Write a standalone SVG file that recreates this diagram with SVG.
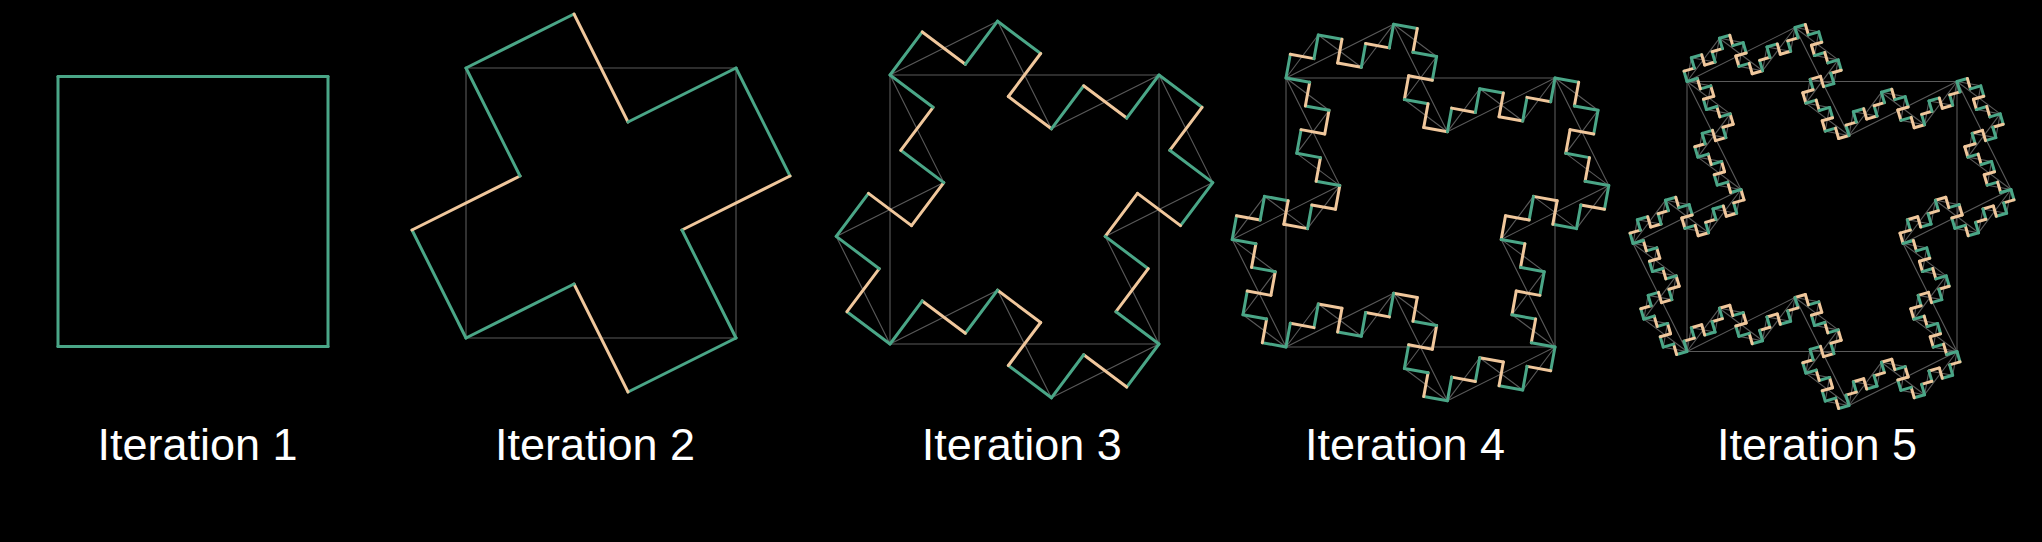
<svg xmlns="http://www.w3.org/2000/svg" xmlns:xlink="http://www.w3.org/1999/xlink" width="2042" height="542" viewBox="0 0 2042 542">
<style>
.g{stroke:#4aa687;stroke-width:3;fill:none;vector-effect:non-scaling-stroke;stroke-linecap:round}
.o{stroke:#f0c79c;stroke-width:3;fill:none;vector-effect:non-scaling-stroke;stroke-linecap:round}
.u{stroke:#5a5a5a;stroke-width:1.1;fill:none;vector-effect:non-scaling-stroke}
.lbl{font-family:"Liberation Sans",Arial,sans-serif;font-size:45px;fill:#ffffff;text-anchor:middle}
</style>
<defs>
<line id="G1" class="g" x1="0" y1="0" x2="1" y2="0"/>
<line id="O1" class="o" x1="0" y1="0" x2="1" y2="0"/>
<line id="U1" class="u" x1="0" y1="0" x2="1" y2="0"/>
<g id="G2"><use href="#G1" transform="matrix(0.4,-0.2,0.2,0.4,0,0)"/><use href="#O1" transform="matrix(0.2,0.4,-0.4,0.2,0.4,-0.2)"/><use href="#G1" transform="matrix(0.4,-0.2,0.2,0.4,0.6,0.2)"/></g>
<g id="O2"><use href="#G1" transform="matrix(0.4,-0.2,0.2,0.4,0,0)"/><use href="#O1" transform="matrix(0.2,0.4,-0.4,0.2,0.4,-0.2)"/><use href="#O1" transform="matrix(0.4,-0.2,0.2,0.4,0.6,0.2)"/></g>
<g id="G3"><use href="#G2" transform="matrix(0.4,-0.2,0.2,0.4,0,0)"/><use href="#O2" transform="matrix(0.2,0.4,-0.4,0.2,0.4,-0.2)"/><use href="#G2" transform="matrix(0.4,-0.2,0.2,0.4,0.6,0.2)"/></g>
<g id="O3"><use href="#G2" transform="matrix(0.4,-0.2,0.2,0.4,0,0)"/><use href="#O2" transform="matrix(0.2,0.4,-0.4,0.2,0.4,-0.2)"/><use href="#O2" transform="matrix(0.4,-0.2,0.2,0.4,0.6,0.2)"/></g>
<g id="G4"><use href="#G3" transform="matrix(0.4,-0.2,0.2,0.4,0,0)"/><use href="#O3" transform="matrix(0.2,0.4,-0.4,0.2,0.4,-0.2)"/><use href="#G3" transform="matrix(0.4,-0.2,0.2,0.4,0.6,0.2)"/></g>
<g id="O4"><use href="#G3" transform="matrix(0.4,-0.2,0.2,0.4,0,0)"/><use href="#O3" transform="matrix(0.2,0.4,-0.4,0.2,0.4,-0.2)"/><use href="#O3" transform="matrix(0.4,-0.2,0.2,0.4,0.6,0.2)"/></g>
<g id="G5"><use href="#G4" transform="matrix(0.4,-0.2,0.2,0.4,0,0)"/><use href="#O4" transform="matrix(0.2,0.4,-0.4,0.2,0.4,-0.2)"/><use href="#G4" transform="matrix(0.4,-0.2,0.2,0.4,0.6,0.2)"/></g>
<g id="U2"><use href="#U1" transform="matrix(0.4,-0.2,0.2,0.4,0,0)"/><use href="#U1" transform="matrix(0.2,0.4,-0.4,0.2,0.4,-0.2)"/><use href="#U1" transform="matrix(0.4,-0.2,0.2,0.4,0.6,0.2)"/></g>
<g id="U3"><use href="#U2" transform="matrix(0.4,-0.2,0.2,0.4,0,0)"/><use href="#U2" transform="matrix(0.2,0.4,-0.4,0.2,0.4,-0.2)"/><use href="#U2" transform="matrix(0.4,-0.2,0.2,0.4,0.6,0.2)"/></g>
<g id="U4"><use href="#U3" transform="matrix(0.4,-0.2,0.2,0.4,0,0)"/><use href="#U3" transform="matrix(0.2,0.4,-0.4,0.2,0.4,-0.2)"/><use href="#U3" transform="matrix(0.4,-0.2,0.2,0.4,0.6,0.2)"/></g>
<g id="RG1"><use href="#G1"/><use href="#G1" transform="matrix(0,1,-1,0,1,0)"/><use href="#G1" transform="matrix(-1,0,0,-1,1,1)"/><use href="#G1" transform="matrix(0,-1,1,0,0,1)"/></g>
<g id="RG2"><use href="#G2"/><use href="#G2" transform="matrix(0,1,-1,0,1,0)"/><use href="#G2" transform="matrix(-1,0,0,-1,1,1)"/><use href="#G2" transform="matrix(0,-1,1,0,0,1)"/></g>
<g id="RG3"><use href="#G3"/><use href="#G3" transform="matrix(0,1,-1,0,1,0)"/><use href="#G3" transform="matrix(-1,0,0,-1,1,1)"/><use href="#G3" transform="matrix(0,-1,1,0,0,1)"/></g>
<g id="RG4"><use href="#G4"/><use href="#G4" transform="matrix(0,1,-1,0,1,0)"/><use href="#G4" transform="matrix(-1,0,0,-1,1,1)"/><use href="#G4" transform="matrix(0,-1,1,0,0,1)"/></g>
<g id="RG5"><use href="#G5"/><use href="#G5" transform="matrix(0,1,-1,0,1,0)"/><use href="#G5" transform="matrix(-1,0,0,-1,1,1)"/><use href="#G5" transform="matrix(0,-1,1,0,0,1)"/></g>
<g id="RU1"><use href="#U1"/><use href="#U1" transform="matrix(0,1,-1,0,1,0)"/><use href="#U1" transform="matrix(-1,0,0,-1,1,1)"/><use href="#U1" transform="matrix(0,-1,1,0,0,1)"/></g>
<g id="RU2"><use href="#U2"/><use href="#U2" transform="matrix(0,1,-1,0,1,0)"/><use href="#U2" transform="matrix(-1,0,0,-1,1,1)"/><use href="#U2" transform="matrix(0,-1,1,0,0,1)"/></g>
<g id="RU3"><use href="#U3"/><use href="#U3" transform="matrix(0,1,-1,0,1,0)"/><use href="#U3" transform="matrix(-1,0,0,-1,1,1)"/><use href="#U3" transform="matrix(0,-1,1,0,0,1)"/></g>
<g id="RU4"><use href="#U4"/><use href="#U4" transform="matrix(0,1,-1,0,1,0)"/><use href="#U4" transform="matrix(-1,0,0,-1,1,1)"/><use href="#U4" transform="matrix(0,-1,1,0,0,1)"/></g>
</defs>
<rect x="0" y="0" width="2042" height="542" fill="#000000"/>
<g id="iteration1" transform="translate(58,76.5) scale(270)">
<use href="#RG1"/>
</g>
<g id="iteration2" transform="translate(466,68) scale(270)">
<use href="#RU1"/><use href="#RG2"/>
</g>
<g id="iteration3" transform="translate(890,75) scale(269)">
<use href="#RU1"/><use href="#RU2"/><use href="#RG3"/>
</g>
<g id="iteration4" transform="translate(1286,78) scale(269)">
<use href="#RU1"/><use href="#RU2"/><use href="#RU3"/><use href="#RG4"/>
</g>
<g id="iteration5" transform="translate(1687,81.5) scale(270)">
<use href="#RU1"/><use href="#RU2"/><use href="#RU3"/><use href="#RU4"/><use href="#RG5"/>
</g>
<g id="labels">
<text class="lbl" x="197.5" y="460">Iteration 1</text>
<text class="lbl" x="595" y="460">Iteration 2</text>
<text class="lbl" x="1021.7" y="460">Iteration 3</text>
<text class="lbl" x="1405" y="460">Iteration 4</text>
<text class="lbl" x="1817" y="460">Iteration 5</text>
</g>
</svg>
